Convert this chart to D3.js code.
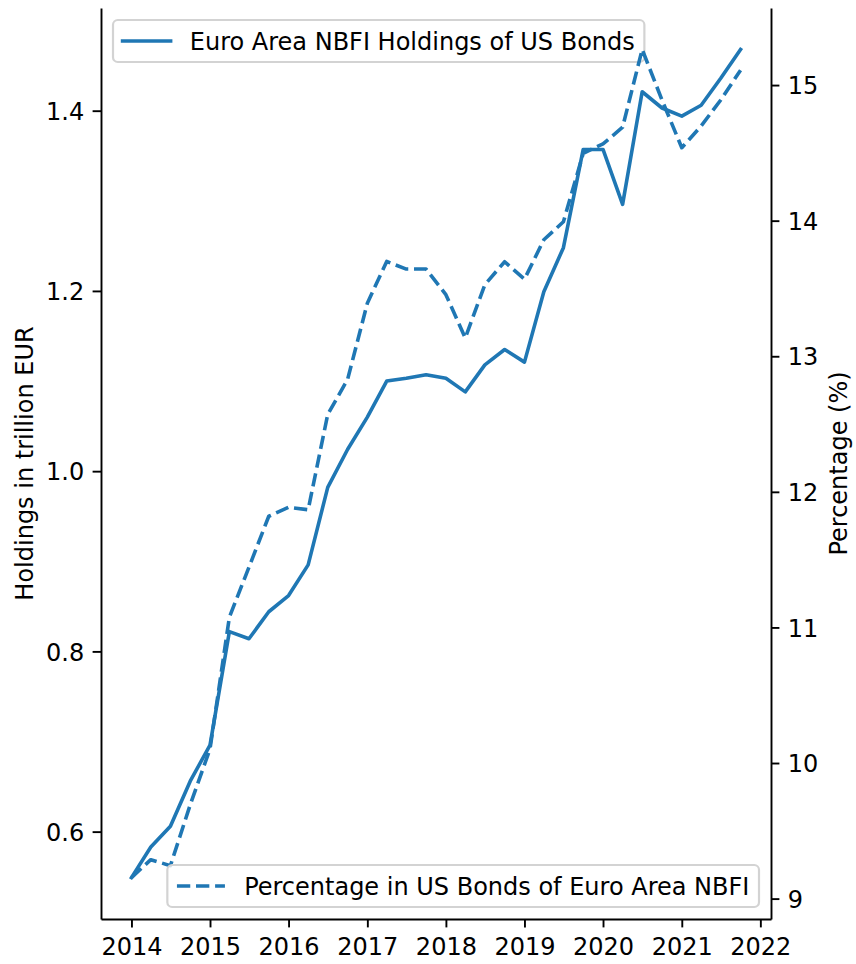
<!DOCTYPE html>
<html>
<head>
<meta charset="utf-8">
<title>Euro Area NBFI Holdings of US Bonds</title>
<style>
  body { margin: 0; background: #fff; }
  svg text { font-family: "DejaVu Sans", sans-serif; fill: #000; }
  .axis path, .axis line { stroke: #000; stroke-width: 1.9px; }
  .axis text { font-size: 24px; }
</style>
</head>
<body>
<script src="https://cdn.jsdelivr.net/npm/d3@7"></script>
<script>
// quarterly data, 2014Q1 .. 2021Q4
var quarters = [
  "2014-01-01","2014-04-01","2014-07-01","2014-10-01",
  "2015-01-01","2015-04-01","2015-07-01","2015-10-01",
  "2016-01-01","2016-04-01","2016-07-01","2016-10-01",
  "2017-01-01","2017-04-01","2017-07-01","2017-10-01",
  "2018-01-01","2018-04-01","2018-07-01","2018-10-01",
  "2019-01-01","2019-04-01","2019-07-01","2019-10-01",
  "2020-01-01","2020-04-01","2020-07-01","2020-10-01",
  "2021-01-01","2021-04-01","2021-07-01","2021-10-01"
];
// holdings, trillion EUR (left axis)
var holdings = [
  0.549, 0.583, 0.606, 0.656, 0.696, 0.822, 0.814, 0.844,
  0.862, 0.896, 0.982, 1.024, 1.060, 1.100, 1.103, 1.107,
  1.103, 1.088, 1.118, 1.135, 1.121, 1.199, 1.248, 1.357,
  1.357, 1.296, 1.421, 1.403, 1.394, 1.406, 1.436, 1.468
];
// share of US bonds in NBFI portfolio, % (right axis)
var percentage = [
  9.155, 9.287, 9.243, 9.692, 10.104, 11.076, 11.444, 11.820,
  11.886, 11.868, 12.571, 12.828, 13.391, 13.699, 13.643, 13.643,
  13.454, 13.135, 13.528, 13.697, 13.568, 13.859, 13.992, 14.497,
  14.566, 14.689, 15.263, 14.890, 14.538, 14.698, 14.890, 15.110
];
var leftTicks = [0.6, 0.8, 1.0, 1.2, 1.4];
var rightTicks = [9, 10, 11, 12, 13, 14, 15];
var labelHoldings = "Euro Area NBFI Holdings of US Bonds";
var labelPercent = "Percentage in US Bonds of Euro Area NBFI";

var width = 856, height = 964;
var margin = {left: 101, right: 85, top: 8, bottom: 45};
var x0 = margin.left, x1 = width - margin.right;
var y0 = height - margin.bottom, y1 = margin.top;
var fs = 24, lw = 3.6, color = "#1f77b4";

var parse = d3.timeParse("%Y-%m-%d");
var dates = quarters.map(parse);

// matplotlib-like 5% margins
function pad(ext) {
  var m = (ext[1] - ext[0]) * 0.05;
  return [ext[0] - m, ext[1] + m];
}
var tExt = d3.extent(dates, function(d){ return +d; });
var x = d3.scaleTime().domain(pad(tExt).map(function(v){ return new Date(v); })).range([x0, x1]);
var yL = d3.scaleLinear().domain(pad(d3.extent(holdings))).range([y0, y1]);
var yR = d3.scaleLinear().domain(pad(d3.extent(percentage))).range([y0, y1]);

var svg = d3.select("body").append("svg")
  .attr("width", width).attr("height", height);

// axes
var gx = svg.append("g").attr("class", "axis")
  .attr("transform", "translate(0," + y0 + ")")
  .call(d3.axisBottom(x).ticks(d3.timeYear.every(1)).tickFormat(d3.timeFormat("%Y"))
    .tickSize(8.4).tickSizeOuter(0).tickPadding(8.4));
gx.selectAll("text").attr("dy", "0.8em");

var gl = svg.append("g").attr("class", "axis")
  .attr("transform", "translate(" + x0 + ",0)")
  .call(d3.axisLeft(yL).tickValues(leftTicks).tickFormat(d3.format(".1f"))
    .tickSize(8.4).tickSizeOuter(0).tickPadding(8.4));
gl.selectAll("text").attr("dy", "0.36em");

var gr = svg.append("g").attr("class", "axis")
  .attr("transform", "translate(" + x1 + ",0)")
  .call(d3.axisRight(yR).tickValues(rightTicks).tickFormat(d3.format("d"))
    .tickSize(8.4).tickSizeOuter(0).tickPadding(8.4));
gr.selectAll("text").attr("dy", "0.36em");

// axis titles
svg.append("text")
  .attr("transform", "translate(33," + ((y0 + y1) / 2) + ") rotate(-90)")
  .attr("text-anchor", "middle").style("font-size", fs + "px")
  .text("Holdings in trillion EUR");
svg.append("text")
  .attr("transform", "translate(847," + ((y0 + y1) / 2) + ") rotate(-90)")
  .attr("text-anchor", "middle").style("font-size", fs + "px")
  .text("Percentage (%)");

var dash = (3.7 * lw) + "," + (1.6 * lw);

// legend helper (matplotlib style box)
function legend(label, dashed, corner) {
  var g = svg.append("g");
  var box = g.append("rect")
    .attr("rx", 4.8).attr("ry", 4.8)
    .attr("fill", "#fff").attr("fill-opacity", 0.8)
    .attr("stroke", "#d3d3d3").attr("stroke-width", 2.2);
  var hl = 2 * fs, bp = 0.4 * fs, tp = 0.8 * fs;
  var txt = g.append("text").style("font-size", fs + "px").text(label);
  var tw = txt.node().getComputedTextLength();
  var bw = bp + hl + tp + tw + bp, bh = 42;
  var bx = corner === "ul" ? x0 + 0.5 * fs : x1 - 0.5 * fs - bw;
  var by = corner === "ul" ? y1 + 0.5 * fs : y0 - 0.5 * fs - bh;
  box.attr("x", bx).attr("y", by).attr("width", bw).attr("height", bh);
  var cy = by + bh / 2;
  g.append("line")
    .attr("x1", bx + bp).attr("x2", bx + bp + hl)
    .attr("y1", cy).attr("y2", cy)
    .attr("stroke", color).attr("stroke-width", lw)
    .attr("stroke-dasharray", dashed ? dash : null)
    .attr("stroke-linecap", dashed ? "butt" : "square");
  txt.attr("x", bx + bp + hl + tp).attr("y", cy).attr("dy", "0.36em");
}

var lineL = d3.line()
  .x(function(d, i){ return x(dates[i]); })
  .y(function(d){ return yL(d); });
var lineR = d3.line()
  .x(function(d, i){ return x(dates[i]); })
  .y(function(d){ return yR(d); });

// first axes: solid line + its legend
svg.append("path").datum(holdings)
  .attr("d", lineL).attr("fill", "none")
  .attr("stroke", color).attr("stroke-width", lw)
  .attr("stroke-linejoin", "round").attr("stroke-linecap", "square");
legend(labelHoldings, false, "ul");

// twin axes: dashed line + its legend (drawn on top)
svg.append("path").datum(percentage)
  .attr("d", lineR).attr("fill", "none")
  .attr("stroke", color).attr("stroke-width", lw)
  .attr("stroke-dasharray", dash)
  .attr("stroke-linejoin", "round");
legend(labelPercent, true, "lr");
</script>
</body>
</html>
